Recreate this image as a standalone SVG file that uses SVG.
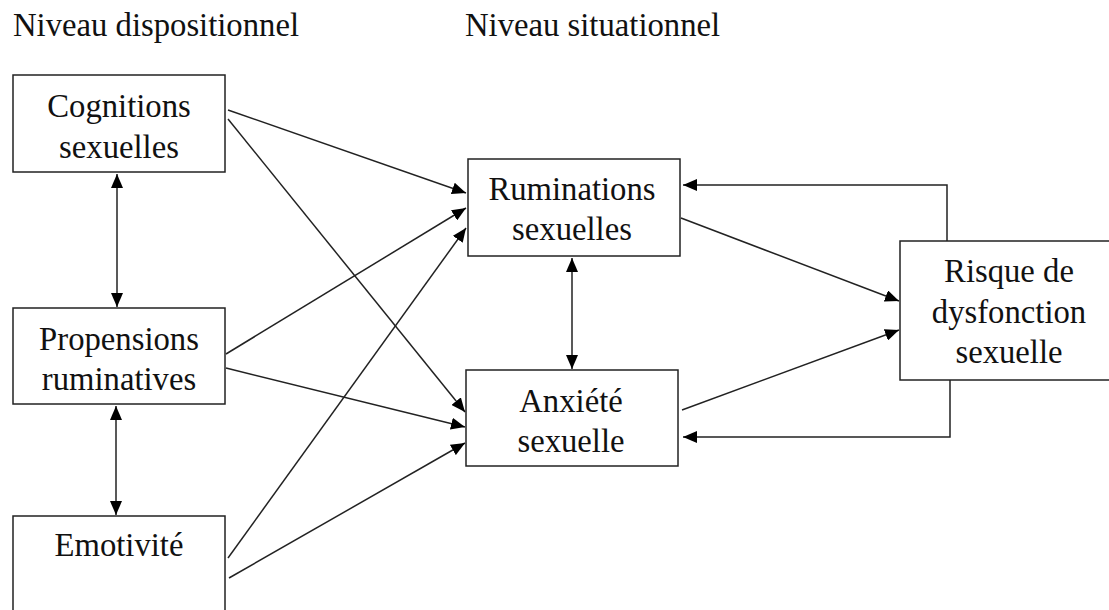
<svg xmlns="http://www.w3.org/2000/svg" width="1109" height="610" viewBox="0 0 1109 610">
<defs>
<marker id="ah" markerUnits="userSpaceOnUse" markerWidth="14" markerHeight="12" refX="14" refY="6" orient="auto-start-reverse">
<path d="M0,0 L14,6 L0,12 z" fill="#000"/>
</marker>
<style>
.box{fill:#fff;stroke:#222;stroke-width:1.5}
.t{font-family:"Liberation Serif","Times New Roman",serif;font-size:32.7px;fill:#111;text-anchor:middle}
.h{font-family:"Liberation Serif","Times New Roman",serif;font-size:32.7px;fill:#111}
.c{stroke:#222;stroke-width:1.5;fill:none;marker-end:url(#ah)}
.b{marker-start:url(#ah)}
</style>
</defs>
<rect width="1109" height="610" fill="#fff"/>
<text class="h" x="13" y="36">Niveau dispositionnel</text>
<text class="h" x="465" y="36">Niveau situationnel</text>
<g id="connectors">
<line class="c" x1="228" y1="110" x2="466" y2="193"/>
<line class="c" x1="228" y1="119" x2="465" y2="412"/>
<line class="c" x1="226" y1="354" x2="466" y2="208"/>
<line class="c" x1="226" y1="368" x2="465" y2="427"/>
<line class="c" x1="228" y1="558" x2="466" y2="228"/>
<line class="c" x1="229" y1="578" x2="465" y2="443"/>
<line class="c b" x1="117" y1="174" x2="117" y2="307"/>
<line class="c b" x1="116" y1="406" x2="116" y2="515"/>
<line class="c b" x1="572" y1="258" x2="572" y2="369"/>
<line class="c" x1="681" y1="218" x2="899" y2="301"/>
<line class="c" x1="682" y1="410" x2="899" y2="330"/>
<polyline class="c" points="947,241 947,185 683,185"/>
<polyline class="c" points="950,380 950,437 683,437"/>
</g>
<g id="n-cognitions">
<rect class="box" x="13" y="75" width="212" height="97"/>
<text class="t" x="119" y="117">Cognitions</text>
<text class="t" x="119" y="158">sexuelles</text>
</g>
<g id="n-propensions">
<rect class="box" x="13" y="308" width="212" height="96"/>
<text class="t" x="119" y="350">Propensions</text>
<text class="t" x="119" y="390">ruminatives</text>
</g>
<g id="n-emotivite">
<rect class="box" x="13" y="516" width="212" height="110"/>
<text class="t" x="119" y="556">Emotivité</text>
</g>
<g id="n-ruminations">
<rect class="box" x="468" y="159" width="212" height="97"/>
<text class="t" x="572" y="200">Ruminations</text>
<text class="t" x="572" y="240">sexuelles</text>
</g>
<g id="n-anxiete">
<rect class="box" x="466" y="370" width="212" height="96"/>
<text class="t" x="571" y="412">Anxiété</text>
<text class="t" x="571" y="452">sexuelle</text>
</g>
<g id="n-risque">
<rect class="box" x="900" y="241" width="218" height="139"/>
<text class="t" x="1009" y="282">Risque de</text>
<text class="t" x="1009" y="323">dysfonction</text>
<text class="t" x="1009" y="363">sexuelle</text>
</g>
</svg>
